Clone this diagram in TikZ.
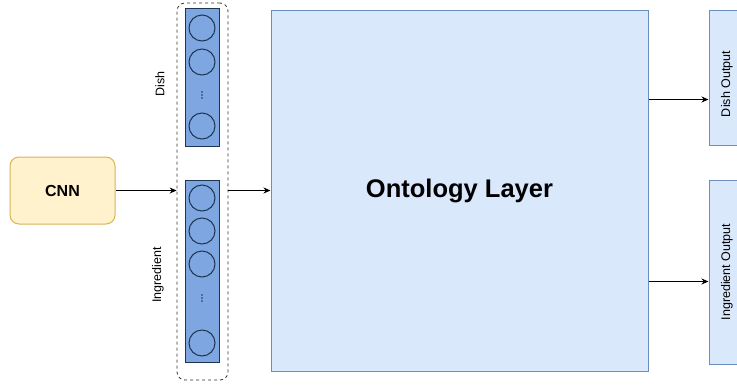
\documentclass[tikz,border=0pt]{standalone}
\usepackage{fontspec}
\setmainfont{Liberation Sans}
\usetikzlibrary{arrows.meta, positioning, calc}
\definecolor{cnnfill}{HTML}{FFF2CC}
\definecolor{cnnline}{HTML}{D6B656}
\definecolor{ontofill}{HTML}{DAE8FC}
\definecolor{ontoline}{HTML}{6C8EBF}
\definecolor{colfill}{HTML}{7EA6E0}
\definecolor{colline}{HTML}{1E3550}
\tikzset{
    box/.style={rectangle, draw, line width=1pt, align=center, inner sep=0pt},
    cnnbox/.style={box, rounded corners=9pt, draw=cnnline, fill=cnnfill, font=\fontsize{16}{18}\selectfont\bfseries},
    ontobox/.style={box, draw=ontoline, fill=ontofill},
    neuroncol/.style={box, draw=colline, fill=colfill, minimum width=34pt},
    neuron/.style={circle, draw=colline, line width=1pt, fill=colfill, minimum size=26pt, inner sep=0pt},
    dotmark/.style={circle, fill=colline, minimum size=1.6pt, inner sep=0pt},
    stackbox/.style={rectangle, rounded corners=8pt, draw=black!80, dashed, line width=0.8pt},
    lbl/.style={font=\fontsize{12.5}{14}\selectfont, rotate=90},
    arr/.style={-{Stealth[length=7pt, width=6pt]}, line width=1pt, black}
}
\begin{document}
\begin{tikzpicture}[x=1pt, y=-1pt]
    \useasboundingbox (0,0) rectangle (737,384);
    % input
    \node[cnnbox, minimum width=105pt, minimum height=67pt] (cnn) at (62.5,190.5) {CNN};
    % stacked output columns
    \node[stackbox, minimum width=51pt, minimum height=377pt] (stack) at (202.5,191.5) {};
    \node[neuroncol, minimum height=138pt] (dishcol) at (202,77) {};
    \node[neuroncol, minimum height=182pt] (ingrcol) at (202,271) {};
    \node[neuron] (d1) at (202,28) {};
    \node[neuron] (d2) at (202,62) {};
    \node[neuron] (d3) at (202,126) {};
    \node[neuron] (i1) at (202,198) {};
    \node[neuron] (i2) at (202,231) {};
    \node[neuron] (i3) at (202,264) {};
    \node[neuron] (i4) at (202,343) {};
    \foreach \y in {-3,0,3} {
        \node[dotmark] at (202,95+\y) {};
        \node[dotmark] at (202,298+\y) {};
    }
    \node[lbl] (dishlbl) at (160,84) {Dish};
    \node[lbl] (ingrlbl) at (158,275) {Ingredient};
    % ontology and outputs
    \node[ontobox, minimum width=377pt, minimum height=361pt, font=\fontsize{25.5}{28}\selectfont\bfseries] (onto) at (459.5,190.5) {Ontology Layer};
    \node[ontobox, minimum width=42pt, minimum height=135pt] (dishout) at (730,77.5) {};
    \node[ontobox, minimum width=42pt, minimum height=184pt] (ingrout) at (730,272) {};
    \node[lbl] (dishtxt) at (727,84) {Dish Output};
    \node[lbl] (ingrtxt) at (727,272) {Ingredient Output};
    \coordinate (dishtap) at ($(onto.north east)+(0,90)$);
    \coordinate (ingrtap) at ($(onto.north east)+(0,272)$);
    \draw[arr] (cnn.east) -- (stack.west |- cnn.east);
    \draw[arr] (stack.east |- cnn.east) -- (onto.west |- cnn.east);
    \draw[arr] (dishtap) -- (dishout.west |- dishtap);
    \draw[arr] (ingrtap) -- (ingrout.west |- ingrtap);
\end{tikzpicture}
\end{document}
